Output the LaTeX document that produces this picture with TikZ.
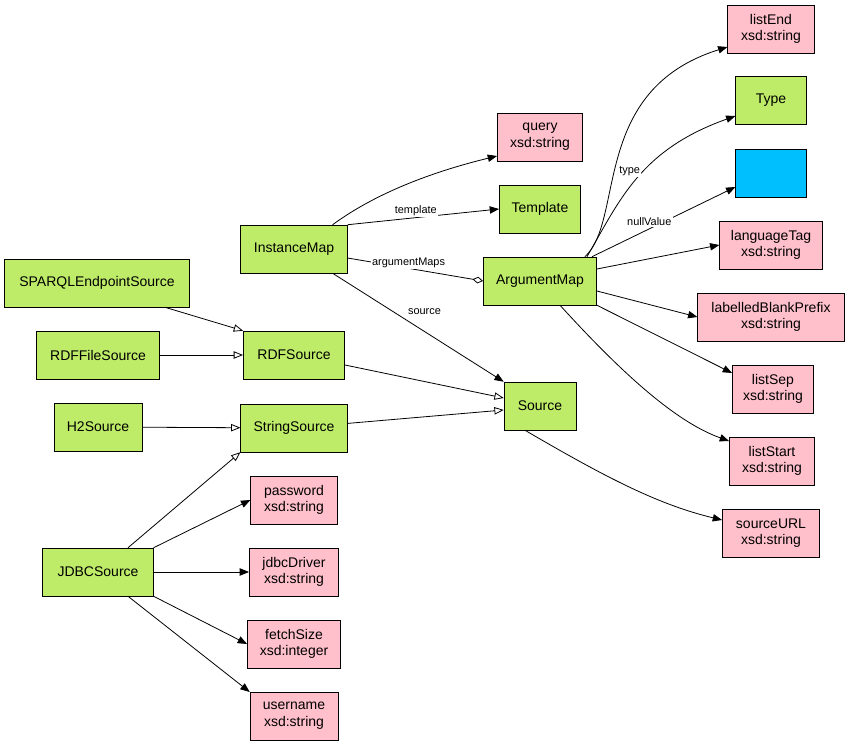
\documentclass[tikz,border=0pt]{standalone}
\usepackage{fontspec}
\setmainfont{Liberation Sans}
\usetikzlibrary{arrows.meta}
\definecolor{clsgreen}{RGB}{190,236,104}
\definecolor{litpink}{RGB}{255,192,203}
\definecolor{skyblue}{RGB}{0,191,255}
\begin{document}
\begin{tikzpicture}[x=0.75pt, y=-0.75pt,
  cls/.style={draw, fill=clsgreen, minimum height=36pt, inner sep=2pt,
              font=\fontsize{10.5}{12.5}\selectfont, align=center},
  lit/.style={cls, fill=litpink},
  rel/.style={-{Triangle[length=7pt,width=5.5pt]}, line width=0.6pt},
  isa/.style={-{Triangle[open,length=7pt,width=5.5pt]}, line width=0.6pt},
  agg/.style={-{Diamond[open,length=8pt,width=5pt]}, line width=0.6pt},
  lbl/.style={font=\fontsize{8.2}{10}\selectfont, fill=white, inner sep=1pt}]
\useasboundingbox (0,0) rectangle (851,745);
% right column
\node[lit, minimum width=65pt] (listEnd) at (771,29) {listEnd\\xsd:string};
\node[cls, minimum width=53pt] (Type) at (771,100) {Type};
\node[cls, fill=skyblue, minimum width=53pt] (blank) at (771,173) {};
\node[lit, minimum width=77pt] (languageTag) at (771,245) {languageTag\\xsd:string};
\node[lit, minimum width=110pt] (labelledBlankPrefix) at (771,317) {labelledBlankPrefix\\xsd:string};
\node[lit, minimum width=61pt] (listSep) at (773,389) {listSep\\xsd:string};
\node[lit, minimum width=64pt] (listStart) at (772,461) {listStart\\xsd:string};
\node[lit, minimum width=73pt] (sourceURL) at (771,533) {sourceURL\\xsd:string};
% middle
\node[lit, minimum width=64pt] (query) at (540,137) {query\\xsd:string};
\node[cls, minimum width=61pt] (Template) at (540,209) {Template};
\node[cls, minimum width=85pt] (ArgumentMap) at (540,281) {ArgumentMap};
\node[cls, minimum width=54pt] (Source) at (540,406) {Source};
\node[cls, minimum width=80pt] (InstanceMap) at (294,249) {InstanceMap};
\node[cls, minimum width=76pt] (RDFSource) at (294,355) {RDFSource};
\node[cls, minimum width=80pt] (StringSource) at (294,428) {StringSource};
\node[lit, minimum width=65pt] (password) at (294,500) {password\\xsd:string};
\node[lit, minimum width=67pt] (jdbcDriver) at (294,572) {jdbcDriver\\xsd:string};
\node[lit, minimum width=70pt] (fetchSize) at (294,644) {fetchSize\\xsd:integer};
\node[lit, minimum width=66pt] (username) at (294,716) {username\\xsd:string};
% left column
\node[cls, minimum width=139pt] (SPARQLEndpointSource) at (97,283) {SPARQLEndpointSource};
\node[cls, minimum width=92pt] (RDFFileSource) at (98,355) {RDFFileSource};
\node[cls, minimum width=66pt] (H2Source) at (98,427) {H2Source};
\node[cls, minimum width=83pt] (JDBCSource) at (98,572) {JDBCSource};
% InstanceMap
\draw[rel] (InstanceMap.north east) ++(-15,0) .. controls (380,190) and (440,170) .. (query.west |- 0,156);
\draw[rel] (InstanceMap.north east) -- node[lbl, pos=0.45, above] {template} (Template.west);
\draw[agg] (InstanceMap.east) ++(0,9) -- node[lbl, pos=0.45, above=-1pt] {argumentMaps} (ArgumentMap.west);
\draw[rel] (InstanceMap.south east) ++(-15,0) -- node[lbl, pos=0.4, above right, xshift=4pt] {source} (Source.north west);
% ArgumentMap
\draw[rel] (ArgumentMap.north east) ++(-12,0) .. controls (625,220) and (590,90) .. (listEnd.west |- 0,47);
\draw[rel] (ArgumentMap.north east) ++(-10,0) .. controls (620,200) and (640,150) .. node[lbl, pos=0.55, left=2pt] {type} (Type.west |- 0,116);
\draw[rel] (ArgumentMap.north east) ++(-5,0) -- node[lbl, pos=0.4, above=1pt] {nullValue} (blank.west |- 0,187);
\draw[rel] (ArgumentMap.east) ++(0,-12) -- (languageTag.west);
\draw[rel] (ArgumentMap.east) ++(0,10) -- (labelledBlankPrefix.west);
\draw[rel] (ArgumentMap.south east) -- (listSep.west |- 0,373);
\draw[rel] (ArgumentMap.south) ++(20,0) .. controls (610,360) and (670,420) .. (listStart.west |- 0,441);
% Source
\draw[rel] (Source.south) ++(-15,0) .. controls (610,480) and (660,505) .. (sourceURL.west |- 0,520);
% inheritance
\draw[isa] (SPARQLEndpointSource.south east) ++(-25,0) -- (RDFSource.north west);
\draw[isa] (RDFFileSource) -- (RDFSource);
\draw[isa] (H2Source) -- (StringSource);
\draw[isa] (JDBCSource.north) ++(30,0) -- (StringSource.south west);
\draw[isa] (RDFSource.east) ++(0,10) -- (Source.west |- 0,398);
\draw[isa] (StringSource) -- (Source.west |- 0,410);
% JDBCSource
\draw[rel] (JDBCSource.north east) -- (password.west);
\draw[rel] (JDBCSource) -- (jdbcDriver);
\draw[rel] (JDBCSource.south east) -- (fetchSize.west);
\draw[rel] (JDBCSource.south) ++(30,0) -- (username.west |- 0,692);
\end{tikzpicture}
\end{document}
